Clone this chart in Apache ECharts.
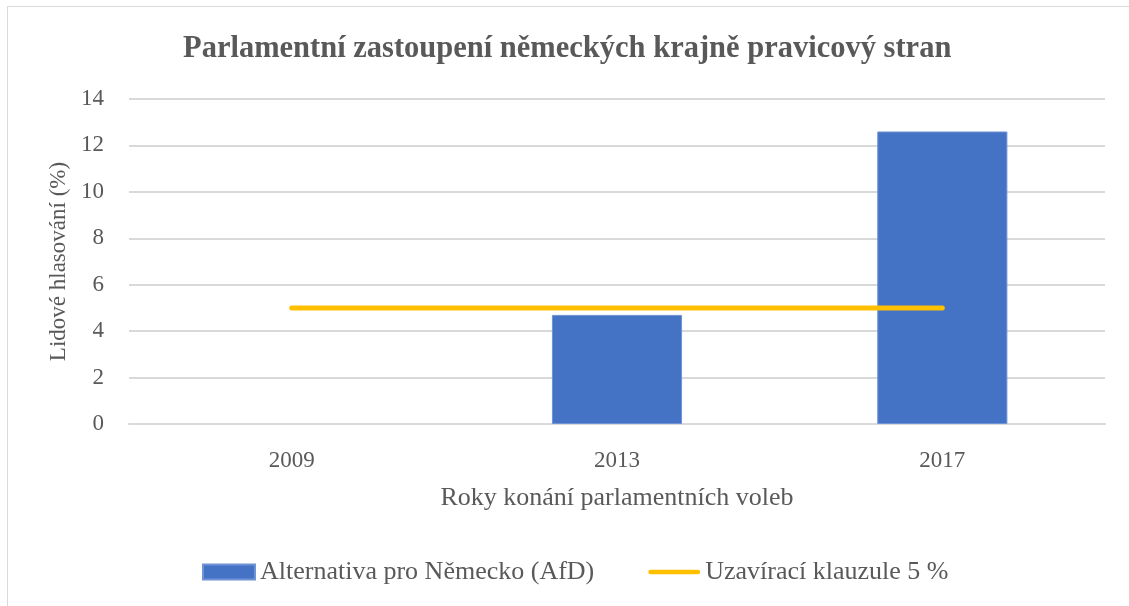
<!DOCTYPE html>
<html>
<head>
<meta charset="utf-8">
<script src="https://cdn.jsdelivr.net/npm/echarts@6/dist/echarts.min.js"></script>
<style>
  html, body { margin: 0; padding: 0; background: #fff; }
  #chart { width: 1129px; height: 606px; }
  .frame { position: absolute; left: 7px; top: 6px; width: 1140px; height: 620px; border: 1px solid #d9d9d9; pointer-events: none; }
</style>
</head>
<body>
<div id="chart"></div>
<div class="frame"></div>
<script>
// data
const years = ["2009", "2013", "2017"];
const afdValues = [null, 4.7, 12.6];
const thresholdValues = [5, 5, 5];

const serif = "'Liberation Serif', 'DejaVu Serif', serif";
const textColor = "#595959";

const chart = echarts.init(document.getElementById("chart"));
chart.setOption({
  animation: false,
  // okraje grafu
  grid: { left: 129, right: 24, top: 99, bottom: 182 },
  title: {
    text: "Parlamentní zastoupení německých krajně pravicový stran",
    left: 178,
    top: 29,
    textStyle: { fontFamily: serif, fontSize: 30.5, fontWeight: "bold", color: textColor }
  },
  legend: {
    bottom: 16,
    left: 197,
    itemGap: 54,
    itemWidth: 52,
    itemHeight: 15,
    textStyle: { fontFamily: serif, fontSize: 26, color: textColor },
    data: [
      { name: "Alternativa pro Německo (AfD)", icon: "rect" },
      { name: "Uzavírací klauzule 5 %", icon: "path://M2.5,0 L53.5,0 A2.5,2.5 0 0 1 53.5,5 L2.5,5 A2.5,2.5 0 0 1 2.5,0 Z" }
    ]
  },
  xAxis: {
    type: "category",
    data: years,
    name: "Roky konání parlamentních voleb",
    nameLocation: "middle",
    nameGap: 61,
    nameTextStyle: { fontFamily: serif, fontSize: 26, color: textColor },
    axisLine: { lineStyle: { color: "#d9d9d9", width: 2 } },
    axisTick: { show: false },
    axisLabel: { fontFamily: serif, fontSize: 23, color: textColor, margin: 25 }
  },
  yAxis: {
    type: "value",
    min: 0,
    max: 14,
    interval: 2,
    name: "Lidové hlasování (%)",
    nameLocation: "middle",
    nameGap: 58,
    nameTextStyle: { fontFamily: serif, fontSize: 23, color: textColor },
    axisLine: { show: false },
    axisTick: { show: false },
    axisLabel: { fontFamily: serif, fontSize: 23, color: textColor, margin: 25 },
    splitLine: { lineStyle: { color: "#d9d9d9", width: 2 } }
  },
  series: [
    {
      name: "Alternativa pro Německo (AfD)",
      type: "bar",
      data: afdValues,
      barWidth: "40%",
      itemStyle: { color: "#4472C4", borderColor: "#6f93d4", borderWidth: 1 }
    },
    {
      name: "Uzavírací klauzule 5 %",
      type: "line",
      data: thresholdValues,
      symbol: "none",
      lineStyle: { color: "#FFC000", width: 5, cap: "round" },
      itemStyle: { color: "#FFC000" }
    }
  ]
});
</script>
</body>
</html>
